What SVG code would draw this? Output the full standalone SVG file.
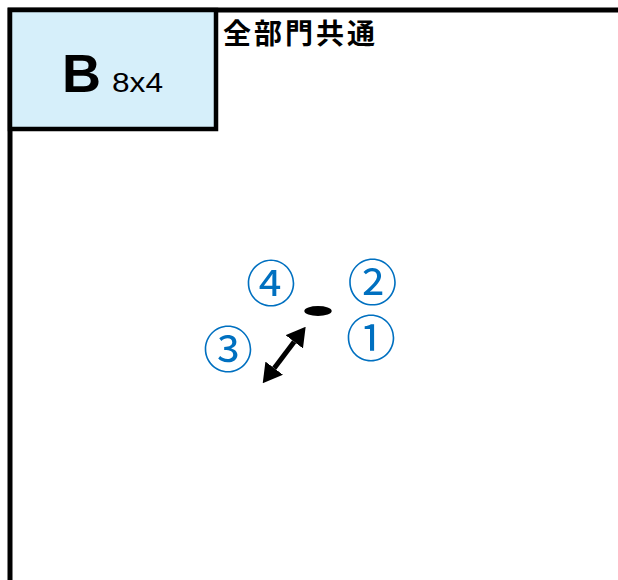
<svg xmlns="http://www.w3.org/2000/svg" width="618" height="580" viewBox="0 0 618 580">
  <style>
    .frame { fill: none; stroke: #000; stroke-width: 5; }
    .box { fill: #d6effa; stroke: #000; stroke-width: 4.5; }
    .num { font-family: "Noto Sans CJK JP", "Noto Sans", sans-serif; font-size: 50px; fill: #0070c0; text-anchor: middle; }
    .arrow { stroke: #000; stroke-width: 5; fill: none; marker-start: url(#head); marker-end: url(#head); }
  </style>
  <defs>
    <marker id="head" markerUnits="userSpaceOnUse" markerWidth="19" markerHeight="22" viewBox="0 0 19 22" refX="0" refY="11" orient="auto-start-reverse">
      <path d="M0,0 L19,11 L0,22 z" fill="#000"/>
    </marker>
  </defs>
  <rect width="618" height="580" fill="#fff"/>
  <g id="frame">
    <path class="frame" d="M10,580 V10 H618"/>
  </g>
  <g id="node-B">
    <rect class="box" x="10" y="10" width="206" height="119"/>
    <text x="62" y="92" font-family="Liberation Sans, Arial, sans-serif" font-weight="bold" font-size="54">B</text>
    <text x="112" y="92" font-family="Liberation Sans, Arial, sans-serif" font-size="28" textLength="51" lengthAdjust="spacingAndGlyphs">8x4</text>
  </g>
  <g id="title">
    <text x="223" y="44" font-family="Noto Sans CJK JP, sans-serif" font-weight="bold" font-size="28" textLength="152">全部門共通</text>
  </g>
  <g id="point">
    <ellipse cx="318" cy="311" rx="13.7" ry="5" fill="#000"/>
  </g>
  <g id="connectors">
    <line class="arrow" x1="294.2" y1="341.8" x2="274.2" y2="368.2"/>
  </g>
  <g id="labels">
    <text class="num" x="271" y="301.5">④</text>
    <text class="num" x="372.5" y="301">②</text>
    <text class="num" x="371" y="356.5">①</text>
    <text class="num" x="228" y="367.5">③</text>
  </g>
</svg>
